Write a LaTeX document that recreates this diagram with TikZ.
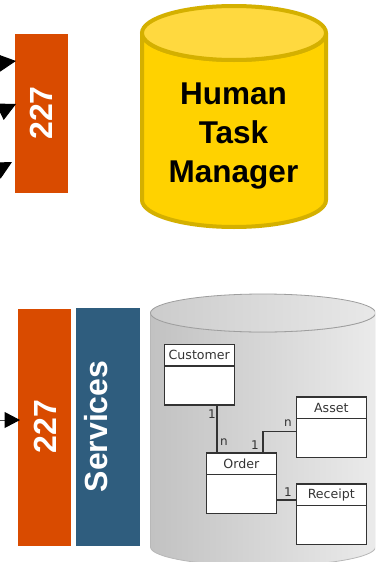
\documentclass[tikz,border=0pt]{standalone}
\usepackage{fontspec}
\setmainfont{Liberation Sans}
\newfontfamily\umlfont{DejaVu Sans}
\usetikzlibrary{arrows.meta,calc}
\definecolor{orangebar}{HTML}{D94B00}
\definecolor{bluebar}{HTML}{2F5D7E}
\definecolor{goldfill}{HTML}{FFD200}
\definecolor{goldtop}{HTML}{FFD93F}
\definecolor{goldline}{HTML}{D4B000}
\definecolor{umlline}{HTML}{333333}
\tikzset{
  x=1pt,y=-1pt,
  barlabel/.style={text=white,font=\bfseries\fontsize{32}{32}\selectfont,rotate=90,inner sep=0pt},
  umlbox/.style={draw=umlline,line width=1.6pt,fill=white,minimum width=70pt,minimum height=60.5pt,inner sep=0pt},
  umltitle/.style={draw=umlline,line width=1.6pt,fill=white,minimum width=70pt,minimum height=21.5pt,inner sep=0pt,font=\umlfont\fontsize{12.6}{13}\selectfont,text=umlline},
  umlconn/.style={draw=umlline,line width=1.8pt},
  mult/.style={font=\umlfont\fontsize{12}{12}\selectfont,text=umlline,inner sep=0pt},
  inarrow/.style={draw=black,line width=1pt,-{Triangle[length=18pt,width=18pt]}},
  inarrowflat/.style={draw=black!70,line width=1pt,-{Triangle[length=15.5pt,width=16pt,color=black]}}
}
\begin{document}
\begin{tikzpicture}
\useasboundingbox (0,0) rectangle (375,562);
\clip (0,0) rectangle (375,562);
\fill[white] (0,0) rectangle (375,562);

% top bar
\path[fill=orangebar] (15,34) rectangle (68,193);
\node[barlabel] (barA) at (41.5,113) {227};
\coordinate (a1) at (-30,66.5);
\coordinate (a2) at (-30,126);
\coordinate (a3) at (-30,185);
\coordinate (t1) at (16,61);
\coordinate (t2) at (16,104);
\coordinate (t3) at (12,162);
\draw[inarrow] (a1) -- (t1);
\draw[inarrow] (a2) -- (t2);
\draw[inarrow] (a3) -- (t3);

% gold cylinder
\path[fill=goldfill,draw=goldline,line width=4pt]
  (142,33) -- (142,200) arc[start angle=180,end angle=360,x radius=92,y radius=-27] -- (326,33)
  arc[start angle=0,end angle=180,x radius=92,y radius=27] -- cycle;
\path[fill=goldtop,draw=goldline,line width=4pt] (234,33) ellipse[x radius=92,y radius=27];
\node[font=\bfseries\fontsize{31.5}{39}\selectfont,align=center,inner sep=0pt,anchor=base] (htm) at (233.5,182) {Human\\Task\\Manager};

% bottom bars
\path[fill=orangebar] (18,309) rectangle (71,546);
\node[barlabel] (barB) at (45,426.5) {227};
\path[fill=bluebar] (76,308) rectangle (140,546);
\node[barlabel] (svc) at (96,426.5) {Services};
\coordinate (b0) at (-5,420);
\coordinate (b1) at (20,420);
\draw[inarrowflat] (b0) -- (b1);

% gray cylinder
\path[left color=black!24,right color=black!8,draw=black!28,line width=0.8pt]
  (150.5,313) -- (150.5,547) arc[start angle=180,end angle=360,x radius=112.5,y radius=-19] -- (375.5,313)
  arc[start angle=0,end angle=180,x radius=112.5,y radius=19] -- cycle;
\path[left color=black!20,right color=black!9,draw=black!38,line width=0.8pt] (263,313) ellipse[x radius=112.5,y radius=19];

% UML boxes
\node[umlbox,anchor=north west] (cust) at (163.5,343.5) {};
\node[umltitle,anchor=north west] (custT) at (cust.north west) {Customer};
\node[umlbox,anchor=north west] (asset) at (295.5,396) {};
\node[umltitle,anchor=north west] (assetT) at (asset.north west) {Asset};
\node[umlbox,anchor=north west] (order) at (205.5,452) {};
\node[umltitle,anchor=north west] (orderT) at (order.north west) {Order};
\node[umlbox,anchor=north west] (rec) at (295.5,483) {};
\node[umltitle,anchor=north west] (recT) at (rec.north west) {Receipt};

\draw[umlconn] ([xshift=18pt]cust.south) -- ([xshift=18pt]cust.south |- order.north);
\draw[umlconn] ([xshift=21.5pt]order.north) |- ([yshift=-35.5pt]asset.north west);
\draw[umlconn] ([yshift=-17pt]rec.north west) -- ([yshift=-17pt]rec.north west -| order.east);

\node[mult] (m1) at (212,414) {1};
\node[mult] (m2) at (224,442.5) {n};
\node[mult] (m3) at (288,423.5) {n};
\node[mult] (m4) at (255,445) {1};
\node[mult] (m5) at (288,492) {1};
\end{tikzpicture}
\end{document}
